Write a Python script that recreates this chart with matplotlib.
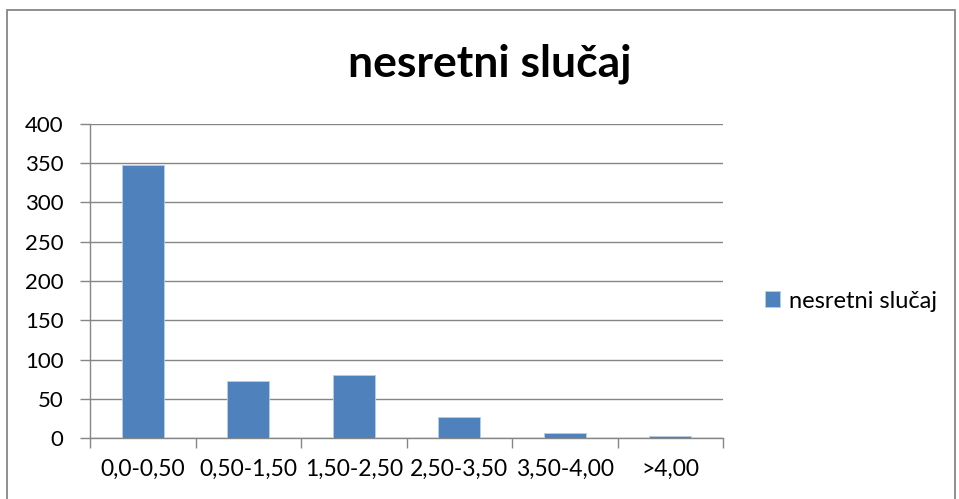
import numpy as np
import matplotlib.pyplot as plt
from matplotlib.patches import Rectangle

# Podaci
kategorije = ['0,0-0,50', '0,50-1,50', '1,50-2,50', '2,50-3,50', '3,50-4,00', '>4,00']
vrednosti = [348, 73, 81, 27, 7, 3]
naziv = 'nesretni slučaj'
y_ticks = [0, 50, 100, 150, 200, 250, 300, 350, 400]

plt.rcParams['font.family'] = ['Lato', 'DejaVu Sans']

fig = plt.figure(figsize=(9.59, 4.99), dpi=100)
# okvir oko grafika
fig.patches.append(Rectangle((7 / 959, -0.1), 948 / 959, 1.1 - 10 / 499,
                             transform=fig.transFigure, fill=False,
                             edgecolor='#868686', linewidth=1.3))

ax = fig.add_axes([90 / 959, 1 - 438.3 / 499, 633 / 959, 314.5 / 499])
x = np.arange(len(kategorije))
ax.bar(x, vrednosti, width=0.4, color='#4f81bd', edgecolor='#b9cde5',
       linewidth=0.6, label=naziv, zorder=3)

ax.set_xlim(-0.5, len(kategorije) - 0.5)
ax.set_ylim(0, 400)
ax.set_yticks(y_ticks)
ax.set_yticklabels([str(v) for v in y_ticks], fontsize=16)
ax.yaxis.grid(True, color='#868686', linewidth=1.0, zorder=0)

# podeoci na granicama kategorija
ax.set_xticks(np.arange(len(kategorije) + 1) - 0.5)
ax.set_xticklabels([])
ax.set_xticks(x, minor=True)
ax.set_xticklabels(kategorije, minor=True, fontsize=16.5)
ax.tick_params(axis='x', which='major', length=7, color='#868686', width=1)
ax.tick_params(axis='x', which='minor', length=0, pad=15)
ax.tick_params(axis='y', length=7, color='#868686', width=1, pad=12)

for s in ['top', 'right']:
    ax.spines[s].set_visible(False)
for s in ['left', 'bottom']:
    ax.spines[s].set_color('#868686')
    ax.spines[s].set_linewidth(1.0)

fig.text(490 / 959, 1 - 77 / 499, naziv, ha='center', va='baseline',
         fontsize=32, fontweight='bold')

fig.legend(loc='center left', bbox_to_anchor=(765 / 959, 1 - 301 / 499),
           frameon=False, fontsize=17, handlelength=0.65, handleheight=0.65,
           handletextpad=0.35, borderpad=0, borderaxespad=0)

fig.savefig('out.png', dpi=100, facecolor='white')
